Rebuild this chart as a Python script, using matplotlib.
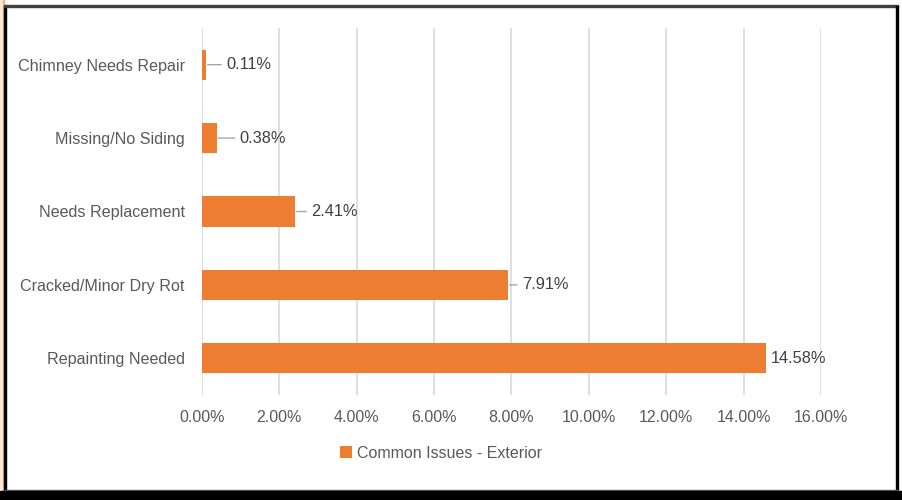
import matplotlib.pyplot as plt
from matplotlib.patches import Rectangle

# data
categories = ["Repainting Needed", "Cracked/Minor Dry Rot", "Needs Replacement",
              "Missing/No Siding", "Chimney Needs Repair"]
values = [14.58, 7.91, 2.41, 0.38, 0.11]
labels = ["14.58%", "7.91%", "2.41%", "0.38%", "0.11%"]
ticks = [0, 2, 4, 6, 8, 10, 12, 14, 16]
series_name = "Common Issues - Exterior"

# label offsets from bar end in pixels (leader line drawn when > 8)
label_gap = [5, 14, 16, 23, 20]

orange = "#ED7D31"
gray_text = "#595959"

plt.rcParams['font.family'] = ['Liberation Sans', 'DejaVu Sans']

fig = plt.figure(figsize=(9.03, 5.0), dpi=100)
ax = fig.add_axes([202 / 903, 1 - 395 / 500, (821 - 202) / 903, (395 - 28) / 500])

y = range(len(categories))
ax.barh(y, values, height=0.41, color=orange, zorder=3, label=series_name)

# data labels with small leader lines
for i, (v, lab, g) in enumerate(zip(values, labels, label_gap)):
    if g > 8:
        ax.annotate("", xy=(v, i), xytext=(g - 5, 0), textcoords="offset pixels",
                    arrowprops=dict(arrowstyle="-", color="#A6A6A6", lw=1,
                                    shrinkA=0, shrinkB=1))
    ax.annotate(lab, xy=(v, i), xytext=(g, 0), textcoords="offset pixels",
                va="center", ha="left", fontsize=11.8, color="#404040")

ax.set_xlim(0, 16)
ax.set_ylim(-0.5, 4.5)
ax.set_xticks(ticks)
ax.set_xticklabels([f"{t:.2f}%" for t in ticks], fontsize=11.5, color=gray_text)
ax.set_yticks(list(y))
ax.set_yticklabels(categories, fontsize=11.6, color=gray_text, va="center_baseline")
ax.tick_params(axis="y", length=0, pad=12.5)
ax.tick_params(axis="x", length=0, pad=11)
ax.grid(axis="x", color="#D9D9D9", lw=1.2, zorder=0)
for s in ax.spines.values():
    s.set_visible(False)

fig.legend(*ax.get_legend_handles_labels(), loc="center",
           bbox_to_anchor=(441 / 903, 1 - 453 / 500), frameon=False,
           fontsize=11.5, labelcolor=gray_text, handlelength=0.8, handleheight=0.8,
           handletextpad=0.3)

# frame around the chart
W, H = 903, 500
def frect(x0, y0, x1, y1, c):
    fig.patches.append(Rectangle((x0 / W, 1 - y1 / H), (x1 - x0) / W, (y1 - y0) / H,
                                 transform=fig.transFigure, color=c, zorder=10))
frect(0, 0, 4, 500, "#FCE9D8")
frect(3.5, 0, 4.5, 500, "#F2B27F")
frect(4.5, 6, 6, 492, "#000000")
frect(4.5, 5.5, 898, 7, "#404040")
frect(896.5, 6, 898, 492, "#000000")
frect(4.5, 490, 898, 491, "#606060")
frect(0, 491, 903, 500, "#000000")

fig.savefig("out.png", dpi=100)
